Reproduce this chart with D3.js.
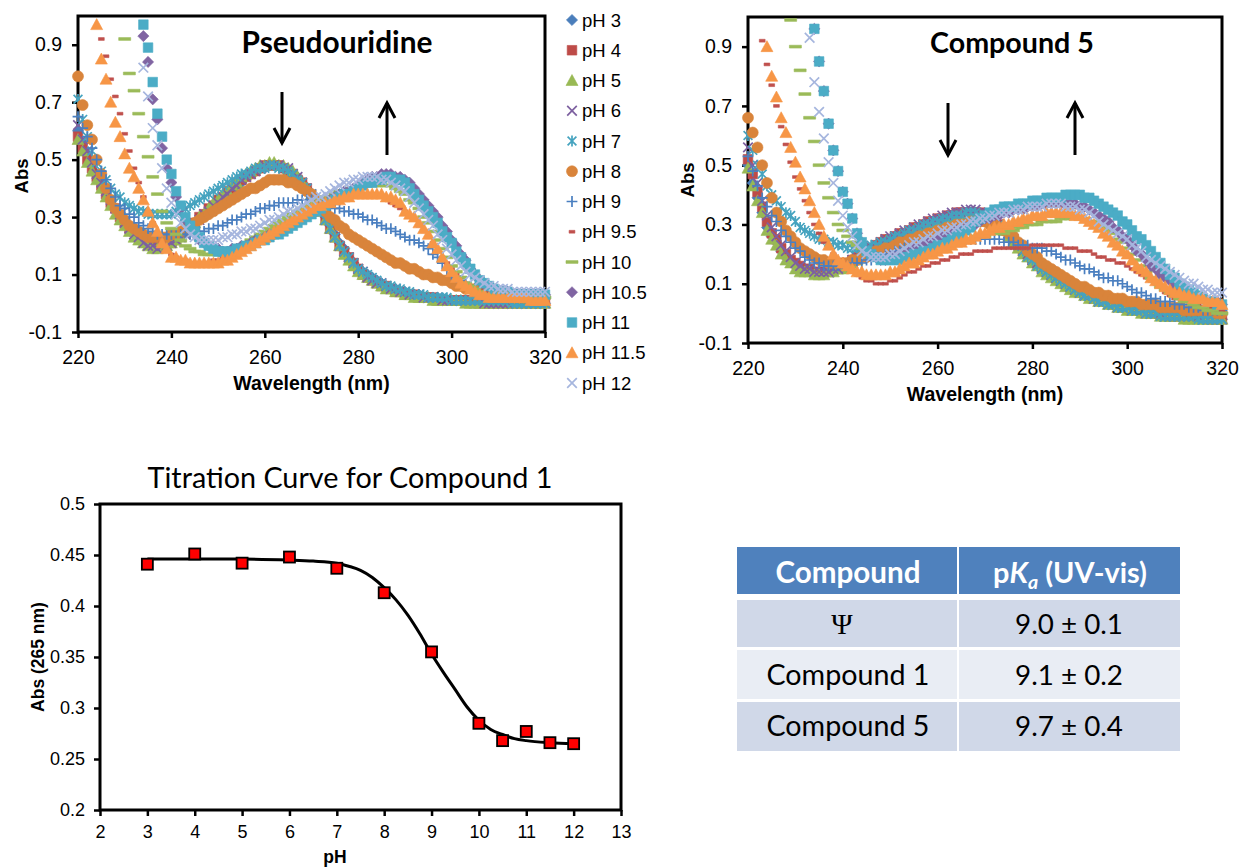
<!DOCTYPE html>
<html><head><meta charset="utf-8">
<script src="https://cdn.jsdelivr.net/npm/d3@7"></script>
<style>body{margin:0;background:#fff}svg{display:block}</style>
</head><body>
<svg id="c" width="1243" height="867"></svg>
<script>
// ---------------- DATA ----------------
const wavelengths = d3.range(220, 321, 1); // scan grid, nm
const wlTicks = [220, 240, 260, 280, 300, 320];
const absTicks = [-0.1, 0.1, 0.3, 0.5, 0.7, 0.9];
const phLabels = ["pH 3","pH 4","pH 5","pH 6","pH 7","pH 8","pH 9","pH 9.5","pH 10","pH 10.5","pH 11","pH 11.5","pH 12"];

// Pseudouridine spectra (Abs, 220..320 nm, 1 nm steps)
const psi_pH3 = [.60,.56,.52,.48,.45,.42,.39,.36,.33,.31,
 .29,.27,.25,.24,.22,.21,.21,.20,.20,.21,
 .21,.22,.23,.25,.26,.28,.29,.31,.32,.34,
 .35,.37,.38,.40,.41,.42,.44,.45,.46,.47,
 .47,.48,.48,.48,.47,.46,.45,.44,.42,.40,
 .38,.36,.33,.30,.27,.24,.21,.19,.16,.14,
 .12,.11,.10,.09,.08,.07,.06,.05,.05,.04,
 .04,.03,.03,.03,.02,.02,.02,.02,.01,.01,
 .01,.01,.01,.01,.01,.01,.01,.01,.01,.00,
 .00,.00,.00,.00,.00,.00,.00,.00,.00,.00,.00];
const psi_pH4 = [.58,.54,.50,.47,.44,.41,.38,.35,.33,.30,
 .28,.26,.25,.23,.22,.21,.20,.20,.20,.21,
 .21,.22,.24,.25,.27,.28,.30,.31,.33,.34,
 .36,.37,.39,.40,.42,.43,.44,.45,.46,.47,
 .48,.48,.48,.48,.47,.46,.45,.43,.42,.40,
 .37,.35,.32,.29,.26,.23,.20,.18,.16,.14,
 .12,.10,.09,.08,.07,.06,.06,.05,.04,.04,
 .03,.03,.03,.02,.02,.02,.02,.01,.01,.01,
 .01,.01,.01,.01,.01,.01,.00,.00,.00,.00,
 .00,.00,.00,.00,.00,.00,.00,.00,.00,.00,.00];
const psi_pH5 = [.57,.53,.49,.46,.43,.40,.37,.34,.31,.29,
 .27,.25,.23,.22,.21,.20,.19,.19,.20,.20,
 .21,.22,.23,.25,.26,.28,.30,.31,.33,.35,
 .36,.38,.39,.41,.42,.44,.45,.46,.47,.48,
 .48,.49,.49,.48,.48,.47,.46,.44,.42,.40,
 .38,.35,.32,.29,.26,.23,.20,.17,.15,.13,
 .11,.10,.09,.08,.07,.06,.05,.05,.04,.04,
 .03,.03,.02,.02,.02,.02,.01,.01,.01,.01,
 .01,.01,.01,.00,.00,.00,.00,.00,.00,.00,
 .00,.00,.00,.00,.00,.00,.00,.00,.00,.00,.00];
const psi_pH6 = [.62,.57,.53,.49,.45,.42,.39,.36,.33,.31,
 .28,.26,.24,.23,.21,.20,.20,.19,.20,.20,
 .21,.22,.23,.24,.26,.27,.29,.31,.32,.34,
 .35,.37,.38,.40,.41,.43,.44,.45,.46,.47,
 .48,.48,.48,.48,.47,.47,.45,.44,.42,.40,
 .38,.35,.32,.29,.26,.23,.20,.18,.16,.14,
 .12,.11,.09,.08,.07,.07,.06,.05,.05,.04,
 .04,.03,.03,.03,.02,.02,.02,.02,.01,.01,
 .01,.01,.01,.01,.01,.01,.01,.00,.00,.00,
 .00,.00,.00,.00,.00,.00,.00,.00,.00,.00,.00];
const psi_pH7 = [.71,.64,.58,.53,.49,.46,.43,.40,.38,.37,
 .35,.34,.33,.32,.32,.31,.31,.31,.31,.31,
 .31,.32,.32,.33,.34,.35,.36,.37,.38,.39,
 .40,.41,.42,.43,.44,.45,.45,.46,.47,.47,
 .47,.48,.48,.47,.47,.46,.45,.43,.42,.40,
 .38,.35,.32,.29,.26,.23,.20,.18,.16,.14,
 .12,.11,.10,.09,.08,.07,.06,.06,.05,.05,
 .04,.04,.03,.03,.03,.02,.02,.02,.02,.02,
 .01,.01,.01,.01,.01,.01,.01,.01,.01,.01,
 .01,.01,.01,.00,.00,.00,.00,.00,.00,.00,.00];
const psi_pH8 = [.79,.69,.62,.57,.50,.45,.40,.36,.33,.31,
 .29,.27,.26,.25,.24,.23,.23,.23,.23,.23,
 .24,.24,.25,.26,.27,.28,.29,.30,.31,.32,
 .33,.34,.35,.36,.37,.38,.39,.40,.40,.41,
 .42,.43,.43,.43,.43,.42,.42,.41,.40,.39,
 .38,.36,.34,.32,.30,.29,.27,.26,.24,.23,
 .22,.21,.20,.19,.18,.17,.16,.15,.14,.14,
 .13,.12,.12,.11,.10,.10,.09,.09,.08,.08,
 .07,.06,.06,.05,.05,.05,.04,.04,.04,.03,
 .03,.03,.03,.03,.03,.02,.02,.02,.02,.02,.02];
const psi_pH9 = [.65,.61,.58,.54,.50,.46,.43,.40,.37,.34,
 .33,.31,.30,.28,.27,.26,.25,.24,.24,.24,
 .24,.24,.24,.24,.24,.25,.25,.25,.26,.26,
 .27,.27,.28,.29,.29,.30,.31,.31,.32,.33,
 .33,.34,.34,.35,.35,.35,.35,.36,.36,.36,
 .36,.35,.35,.34,.34,.33,.33,.32,.32,.31,
 .31,.30,.29,.29,.28,.27,.26,.26,.25,.24,
 .23,.22,.22,.21,.20,.19,.17,.16,.14,.12,
 .10,.09,.08,.07,.06,.05,.05,.04,.04,.04,
 .03,.03,.03,.03,.03,.02,.02,.02,.02,.02,.02];
const psi_pH95 = [1.4,1.3,1.2,1.1,1.05,.92,.86,.78,.72,.66,
 .59,.53,.47,.42,.37,.32,.28,.24,.21,.19,
 .17,.16,.15,.15,.14,.14,.14,.14,.14,.15,
 .15,.16,.17,.17,.18,.19,.20,.21,.22,.23,
 .24,.25,.26,.27,.28,.29,.30,.31,.32,.33,
 .33,.34,.35,.35,.36,.36,.37,.37,.37,.38,
 .38,.38,.38,.38,.37,.37,.36,.35,.34,.33,
 .32,.30,.29,.27,.25,.23,.21,.18,.16,.14,
 .12,.10,.09,.07,.06,.05,.05,.04,.04,.03,
 .03,.03,.03,.03,.02,.02,.02,.02,.02,.02,.02];
const psi_pH10 = [1.8,1.7,1.6,1.5,1.4,1.3,1.2,1.1,1.05,1.04,
 .92,.80,.74,.66,.58,.51,.44,.38,.32,.28,
 .26,.24,.22,.20,.19,.18,.18,.17,.17,.17,
 .17,.17,.18,.18,.19,.20,.21,.22,.23,.24,
 .25,.26,.27,.28,.29,.30,.31,.32,.33,.34,
 .35,.35,.36,.37,.37,.38,.39,.39,.40,.40,
 .40,.41,.41,.41,.41,.41,.41,.41,.40,.39,
 .38,.36,.35,.33,.30,.28,.25,.22,.19,.16,
 .13,.11,.09,.07,.06,.05,.04,.03,.03,.02,
 .02,.02,.02,.02,.02,.02,.02,.02,.02,.02,.02];
const psi_pH105 = [2.0,1.9,1.8,1.7,1.6,1.5,1.4,1.3,1.2,1.15,
 1.1,1.08,1.06,1.04,.93,.84,.71,.64,.54,.47,
 .42,.37,.33,.29,.26,.24,.22,.21,.20,.19,
 .19,.18,.18,.19,.19,.20,.20,.21,.22,.22,
 .23,.24,.24,.25,.26,.27,.28,.29,.30,.31,
 .32,.33,.34,.35,.36,.37,.38,.39,.39,.40,
 .41,.42,.43,.44,.44,.45,.45,.45,.44,.44,
 .43,.42,.40,.38,.36,.34,.32,.30,.27,.25,
 .22,.20,.17,.15,.12,.10,.08,.07,.06,.05,
 .04,.04,.04,.03,.03,.03,.03,.03,.03,.03,.03];
const psi_pH11 = [2.0,1.9,1.8,1.7,1.6,1.5,1.4,1.3,1.2,1.15,
 1.1,1.08,1.06,1.06,.97,.89,.77,.66,.58,.50,
 .45,.39,.34,.30,.27,.25,.23,.21,.20,.19,
 .18,.18,.18,.18,.19,.19,.20,.20,.21,.22,
 .22,.23,.24,.24,.25,.26,.27,.28,.29,.30,
 .31,.32,.33,.34,.35,.36,.37,.38,.38,.39,
 .40,.41,.42,.42,.43,.43,.44,.44,.43,.43,
 .42,.40,.38,.36,.34,.32,.30,.28,.25,.23,
 .21,.18,.16,.14,.12,.10,.08,.07,.06,.05,
 .04,.04,.04,.03,.03,.03,.03,.03,.03,.03,.03];
const psi_pH115 = [1.6,1.4,1.25,1.1,.97,.85,.78,.70,.63,.58,
 .52,.47,.44,.40,.36,.32,.28,.25,.21,.19,
 .16,.16,.15,.15,.14,.14,.14,.14,.14,.14,
 .14,.15,.15,.16,.17,.18,.19,.20,.21,.22,
 .23,.24,.25,.26,.27,.28,.29,.30,.31,.32,
 .33,.34,.34,.35,.35,.36,.36,.37,.37,.38,
 .38,.38,.38,.38,.38,.38,.37,.37,.36,.35,
 .32,.31,.30,.28,.26,.24,.21,.19,.16,.13,
 .11,.09,.07,.06,.05,.04,.03,.03,.02,.02,
 .02,.02,.02,.02,.02,.02,.02,.01,.01,.01,.01];
const psi_pH12 = [2.0,1.9,1.8,1.7,1.6,1.5,1.4,1.3,1.2,1.15,
 1.1,1.08,1.06,1.05,.82,.72,.61,.55,.47,.40,
 .35,.31,.28,.26,.24,.23,.22,.22,.22,.22,
 .22,.23,.23,.24,.24,.25,.25,.26,.26,.27,
 .28,.29,.29,.30,.31,.32,.32,.33,.34,.35,
 .36,.37,.37,.38,.39,.40,.41,.42,.42,.43,
 .43,.44,.44,.44,.44,.43,.43,.42,.41,.40,
 .39,.37,.35,.33,.31,.29,.27,.24,.22,.19,
 .17,.15,.13,.11,.10,.09,.08,.07,.06,.06,
 .05,.05,.05,.04,.04,.04,.04,.04,.04,.04,.04];

// Compound 5 spectra (Abs, 220..320 nm, 1 nm steps)
const c5_pH3 = [.50,.44,.39,.34,.29,.26,.24,.21,.19,.18,
 .16,.15,.15,.14,.14,.14,.14,.14,.14,.15,
 .16,.17,.18,.19,.20,.21,.22,.23,.24,.24,
 .25,.26,.26,.27,.28,.28,.29,.30,.30,.31,
 .31,.32,.32,.33,.33,.33,.34,.34,.34,.33,
 .33,.32,.31,.30,.28,.27,.25,.23,.21,.19,
 .18,.16,.15,.14,.13,.12,.11,.10,.09,.08,
 .07,.06,.06,.05,.04,.04,.03,.03,.02,.02,
 .02,.01,.01,.01,.00,.00,.00,-.01,-.01,-.01,
 -.01,-.01,-.01,-.01,-.01,-.02,-.02,-.02,-.02,-.02,-.02];
const c5_pH4 = [.52,.47,.41,.36,.31,.27,.25,.22,.20,.18,
 .17,.16,.15,.15,.14,.14,.14,.14,.15,.15,
 .16,.17,.18,.19,.20,.21,.22,.23,.24,.25,
 .25,.26,.27,.27,.28,.29,.29,.30,.31,.31,
 .32,.32,.33,.33,.34,.34,.34,.34,.34,.34,
 .33,.32,.31,.30,.29,.27,.25,.23,.21,.20,
 .18,.17,.15,.14,.13,.12,.11,.10,.09,.08,
 .07,.07,.06,.05,.05,.04,.04,.03,.03,.02,
 .02,.02,.01,.01,.01,.00,.00,.00,.00,-.01,
 -.01,-.01,-.01,-.01,-.01,-.01,-.01,-.02,-.02,-.02,-.02];
const c5_pH5 = [.49,.43,.38,.34,.28,.25,.23,.20,.18,.17,
 .15,.14,.14,.14,.13,.13,.13,.14,.14,.15,
 .15,.16,.17,.18,.19,.20,.21,.22,.23,.24,
 .24,.25,.26,.26,.27,.28,.28,.29,.29,.30,
 .30,.31,.31,.32,.32,.33,.33,.33,.33,.33,
 .32,.31,.30,.29,.28,.26,.24,.22,.20,.19,
 .17,.16,.14,.13,.12,.11,.10,.09,.08,.07,
 .07,.06,.05,.05,.04,.04,.03,.03,.02,.02,
 .01,.01,.01,.00,.00,.00,.00,-.01,-.01,-.01,
 -.01,-.01,-.02,-.02,-.02,-.02,-.02,-.02,-.02,-.02,-.02];
const c5_pH6 = [.56,.50,.44,.38,.33,.29,.26,.23,.21,.19,
 .17,.16,.15,.15,.14,.14,.14,.14,.15,.15,
 .16,.17,.18,.19,.20,.21,.22,.23,.24,.25,
 .26,.26,.27,.28,.28,.29,.30,.30,.31,.32,
 .32,.33,.33,.34,.34,.34,.35,.35,.35,.34,
 .34,.33,.32,.30,.29,.27,.25,.23,.21,.20,
 .18,.17,.15,.14,.13,.12,.11,.10,.09,.08,
 .07,.06,.06,.05,.04,.04,.03,.03,.02,.02,
 .02,.01,.01,.01,.00,.00,.00,.00,-.01,-.01,
 -.01,-.01,-.01,-.01,-.01,-.01,-.02,-.02,-.02,-.02,-.02];
const c5_pH7 = [.60,.55,.50,.47,.43,.40,.38,.36,.34,.33,
 .31,.29,.28,.27,.26,.25,.25,.24,.24,.23,
 .23,.22,.22,.22,.22,.22,.23,.23,.24,.24,
 .25,.26,.26,.27,.28,.28,.29,.30,.30,.31,
 .31,.32,.32,.33,.33,.33,.34,.34,.34,.33,
 .33,.32,.31,.30,.28,.27,.25,.23,.21,.19,
 .18,.16,.15,.14,.13,.12,.11,.10,.09,.08,
 .07,.06,.06,.05,.04,.04,.03,.03,.02,.02,
 .02,.01,.01,.01,.00,.00,.00,-.01,-.01,-.01,
 -.01,-.01,-.01,-.01,-.01,-.02,-.02,-.02,-.02,-.02,-.02];
const c5_pH8 = [.66,.61,.56,.50,.44,.39,.34,.31,.28,.26,
 .24,.22,.21,.20,.19,.18,.18,.17,.17,.17,
 .17,.17,.18,.18,.19,.19,.20,.21,.21,.22,
 .22,.23,.24,.24,.25,.25,.26,.26,.27,.27,
 .28,.28,.29,.29,.30,.30,.30,.31,.31,.31,
 .31,.30,.30,.29,.28,.27,.26,.24,.23,.21,
 .20,.19,.17,.16,.15,.14,.13,.12,.11,.10,
 .09,.09,.08,.07,.07,.06,.06,.05,.05,.05,
 .04,.04,.04,.03,.03,.03,.03,.02,.02,.02,
 .02,.02,.01,.01,.01,.01,.01,.01,.01,.00,.00];
const c5_pH9 = [.53,.48,.43,.39,.36,.33,.31,.28,.26,.24,
 .22,.21,.19,.18,.17,.17,.16,.16,.16,.16,
 .16,.16,.17,.17,.17,.18,.18,.19,.19,.20,
 .20,.21,.21,.22,.22,.23,.23,.24,.24,.24,
 .25,.25,.25,.25,.25,.25,.25,.25,.25,.25,
 .25,.25,.25,.25,.24,.24,.24,.23,.23,.23,
 .22,.22,.22,.21,.21,.20,.19,.18,.18,.17,
 .16,.15,.15,.14,.13,.12,.12,.11,.11,.10,
 .09,.08,.07,.07,.06,.05,.05,.04,.04,.04,
 .03,.03,.03,.02,.02,.02,.01,.01,.01,.01,.01];
const c5_pH95 = [1.4,1.2,1.1,.92,.84,.77,.70,.63,.57,.51,
 .46,.42,.38,.34,.30,.27,.24,.22,.20,.18,
 .17,.15,.14,.13,.12,.11,.11,.10,.10,.10,
 .11,.11,.12,.13,.14,.14,.15,.16,.16,.17,
 .17,.18,.18,.19,.19,.20,.20,.20,.21,.21,
 .21,.21,.22,.22,.22,.22,.22,.22,.22,.22,
 .23,.23,.23,.23,.23,.23,.23,.22,.22,.22,
 .21,.21,.21,.20,.19,.19,.18,.18,.17,.17,
 .16,.15,.14,.13,.12,.11,.10,.09,.07,.06,
 .05,.05,.04,.04,.03,.03,.02,.02,.02,.01,.01];
const c5_pH10 = [2.0,1.8,1.6,1.45,1.3,1.2,1.12,1.08,1.05,.99,
 .90,.82,.74,.66,.58,.50,.44,.39,.34,.30,
 .28,.26,.24,.23,.22,.21,.20,.19,.18,.18,
 .18,.18,.18,.19,.19,.20,.20,.21,.21,.22,
 .22,.23,.23,.24,.24,.25,.25,.25,.26,.26,
 .26,.27,.27,.27,.27,.28,.28,.29,.29,.30,
 .30,.30,.31,.31,.31,.31,.32,.32,.32,.32,
 .32,.32,.31,.31,.30,.29,.28,.27,.25,.24,
 .22,.20,.18,.16,.14,.12,.11,.09,.08,.07,
 .06,.05,.04,.04,.03,.02,.02,.01,.01,.00,.00];
const c5_pH105 = [2.0,1.9,1.8,1.7,1.6,1.5,1.4,1.3,1.2,1.15,
 1.1,1.08,1.06,1.05,.96,.85,.75,.64,.55,.48,
 .41,.37,.32,.27,.24,.21,.20,.19,.18,.18,
 .19,.19,.20,.20,.21,.22,.22,.23,.24,.24,
 .25,.26,.26,.27,.28,.28,.29,.30,.30,.31,
 .32,.32,.33,.33,.34,.34,.35,.35,.35,.36,
 .36,.36,.37,.37,.37,.37,.37,.37,.37,.37,
 .36,.36,.35,.34,.33,.32,.31,.29,.28,.26,
 .25,.23,.21,.20,.18,.16,.15,.13,.12,.11,
 .09,.08,.07,.06,.06,.05,.05,.04,.04,.04,.03];
const c5_pH11 = [2.0,1.9,1.8,1.7,1.6,1.5,1.4,1.3,1.2,1.15,
 1.1,1.08,1.06,1.05,.96,.85,.75,.64,.55,.48,
 .41,.37,.32,.27,.24,.21,.20,.19,.18,.18,
 .18,.18,.18,.19,.19,.20,.20,.21,.21,.22,
 .23,.23,.24,.25,.26,.27,.28,.29,.31,.32,
 .33,.34,.35,.35,.36,.36,.36,.37,.37,.37,
 .38,.38,.38,.39,.39,.39,.39,.40,.40,.40,
 .40,.39,.39,.38,.37,.36,.35,.34,.33,.31,
 .30,.28,.26,.25,.23,.21,.19,.17,.15,.13,
 .12,.10,.09,.08,.07,.06,.05,.04,.04,.03,.03];
const c5_pH115 = [1.6,1.4,1.25,1.1,.90,.80,.73,.66,.61,.56,
 .51,.46,.42,.38,.34,.30,.26,.23,.20,.18,
 .17,.16,.15,.14,.14,.13,.13,.13,.13,.13,
 .14,.14,.15,.16,.17,.17,.18,.19,.20,.20,
 .21,.22,.22,.23,.24,.24,.25,.25,.26,.27,
 .27,.28,.29,.29,.30,.30,.31,.31,.32,.32,
 .33,.33,.33,.34,.34,.34,.34,.34,.34,.33,
 .33,.32,.31,.30,.29,.27,.26,.24,.23,.21,
 .20,.18,.16,.15,.14,.12,.11,.10,.09,.08,
 .07,.07,.06,.06,.05,.05,.05,.04,.04,.04,.03];
const c5_pH12 = [2.0,1.9,1.8,1.7,1.6,1.5,1.4,1.3,1.2,1.15,
 1.1,1.08,1.05,.93,.78,.68,.59,.51,.44,.38,
 .33,.29,.26,.23,.21,.20,.19,.19,.19,.19,
 .20,.20,.21,.22,.23,.24,.24,.25,.26,.26,
 .27,.28,.28,.29,.29,.30,.30,.31,.31,.32,
 .32,.33,.33,.34,.34,.34,.35,.35,.35,.36,
 .36,.36,.36,.37,.37,.37,.37,.36,.36,.36,
 .35,.35,.34,.33,.31,.30,.29,.28,.27,.26,
 .25,.23,.22,.21,.19,.18,.17,.16,.15,.14,
 .13,.12,.11,.10,.10,.09,.08,.08,.07,.07,.07];

// Titration of compound 1 at 265 nm
const titrationPH  = [3, 4, 5, 6, 7, 8, 9, 10, 10.5, 11, 11.5, 12];
const titrationAbs = [0.441, 0.451, 0.442, 0.448, 0.437, 0.413, 0.355, 0.285, 0.268, 0.277, 0.266, 0.265];
const fitPH  = [3, 4, 5, 6, 6.5, 7, 7.25, 7.5, 7.75, 8, 8.25, 8.5, 8.75, 9, 9.25, 9.5, 9.75, 10, 10.25, 10.5, 10.75, 11, 11.5, 12];
const fitAbs = [0.446, 0.446, 0.446, 0.445, 0.444, 0.442, 0.439, 0.435, 0.428, 0.418, 0.406, 0.391, 0.373, 0.353, 0.335, 0.318, 0.301, 0.288, 0.279, 0.274, 0.270, 0.268, 0.266, 0.265];
const titrXTicks = [2,3,4,5,6,7,8,9,10,11,12,13];
const titrYTicks = [0.2,0.25,0.3,0.35,0.4,0.45,0.5];

// Table
const tableHeader = ["Compound", "pKa (UV-vis)"];
const tableCompounds = ["\u03A8", "Compound 1", "Compound 5"];
const tablePKa = ["9.0 \u00B1 0.1", "9.1 \u00B1 0.2", "9.7 \u00B1 0.4"];

// ---------------- STYLE ----------------
const markerTypes = ["diamond","square","triangle","x","star","circle","plus","shortbar","longbar","diamond","square","triangle","x"];
const colors = ["#4A7EBB","#BE4B48","#98B954","#7D60A0","#45A3BF","#D9843B","#4A7FC0","#C0504D","#9BBB59","#8064A2","#4BACC6","#F79646","#A6B6DE"];
const AX = '"Liberation Sans", Arial, sans-serif';
const CAL = 'Lato, "Open Sans", sans-serif';

const psiSeries = [psi_pH3,psi_pH4,psi_pH5,psi_pH6,psi_pH7,psi_pH8,psi_pH9,psi_pH95,psi_pH10,psi_pH105,psi_pH11,psi_pH115,psi_pH12];
const c5Series  = [c5_pH3,c5_pH4,c5_pH5,c5_pH6,c5_pH7,c5_pH8,c5_pH9,c5_pH95,c5_pH10,c5_pH105,c5_pH11,c5_pH115,c5_pH12];
[...psiSeries, ...c5Series].forEach((a,i)=>{ if(a.length!==wavelengths.length) console.error("bad length", i, a.length); });

const svg = d3.select('#c');

const SHAPES = {
  diamond:  {d:'M0,-5.6L5.6,0L0,5.6L-5.6,0Z', fill:true},
  square:   {d:'M-4.8,-4.8H4.8V4.8H-4.8Z', fill:true},
  triangle: {d:'M0,-6L6,5H-6Z', fill:true},
  circle:   {d:'M-5.5,0A5.5,5.5 0 1,0 5.5,0A5.5,5.5 0 1,0 -5.5,0Z', fill:true},
  x:        {d:'M-4.8,-4.8L4.8,4.8M-4.8,4.8L4.8,-4.8', fill:false},
  star:     {d:'M-4.4,-4.4L4.4,4.4M-4.4,4.4L4.4,-4.4M0,-5.4V5.4', fill:false},
  plus:     {d:'M-5.4,0H5.4M0,-5.4V5.4', fill:false},
  shortbar: {d:'M-2.9,-1.4H2.9V1.4H-2.9Z', fill:true},
  longbar:  {d:'M-6,-1.4H6V1.4H-6Z', fill:true}
};
function marker(g, type, color, cx, cy) {
  const s = SHAPES[type];
  g.append('path').attr('d', s.d).attr('transform', `translate(${cx},${cy})`)
    .attr('fill', s.fill ? color : 'none').attr('stroke', color)
    .attr('stroke-width', s.fill ? 0.6 : 1.7);
}
function fitText(sel, target) {
  const len = sel.node().getComputedTextLength();
  const k = target / len;
  sel.attr('font-size', parseFloat(sel.attr('font-size')) * k);
  sel.selectAll('tspan[font-size]').each(function(){
    const t = d3.select(this); t.attr('font-size', parseFloat(t.attr('font-size')) * k);
  });
  return parseFloat(sel.attr('font-size'));
}
function styleAxis(a, fs) {
  a.select('.domain').remove();
  a.selectAll('.tick line').attr('stroke','#000').attr('stroke-width',2.5);
  a.selectAll('.tick text').attr('font-family', AX).attr('font-size', fs).attr('fill','#000');
}
function arrow(g, x, y1, y2, dir) {
  g.append('line').attr('x1',x).attr('x2',x).attr('y1',y1).attr('y2',y2).attr('stroke','#000').attr('stroke-width',3);
  const hy = dir==='down' ? y2 : y1, s = dir==='down' ? -1 : 1;
  g.append('path').attr('d',`M${x-8},${hy+s*15}L${x},${hy}L${x+8},${hy+s*15}`)
    .attr('fill','none').attr('stroke','#000').attr('stroke-width',3).attr('stroke-linejoin','miter');
}

function spectrum(box, seriesVals, opt) {
  const g = svg.append('g');
  const x = d3.scaleLinear().domain([220, 320]).range([box.l, box.r]);
  const y = d3.scaleLinear().domain([-0.1, 1.0]).range([box.b, box.t]);
  g.append('rect').attr('x',box.l).attr('y',box.t).attr('width',box.r-box.l).attr('height',box.b-box.t)
    .attr('fill','none').attr('stroke','#000').attr('stroke-width',3);
  const ya = g.append('g').attr('transform',`translate(${box.l},0)`)
    .call(d3.axisLeft(y).tickValues(absTicks).tickSize(6).tickSizeOuter(0).tickPadding(10).tickFormat(d=>String(d)));
  styleAxis(ya, 19.5);
  const xa = g.append('g').attr('transform',`translate(0,${box.b})`)
    .call(d3.axisBottom(x).tickValues(wlTicks).tickSize(6).tickSizeOuter(0).tickPadding(12).tickFormat(d=>String(d)));
  styleAxis(xa, 19.5);
  seriesVals.forEach((vals, si) => {
    const sg = g.append('g');
    wavelengths.forEach((w, i) => {
      const v = vals[i];
      if (v == null || v > 1.0 || v < -0.1) return;
      marker(sg, markerTypes[si], colors[si], x(w), y(v));
    });
  });
  g.append('text').attr('x', (box.l+box.r)/2).attr('y', opt.xtY).attr('text-anchor','middle')
    .attr('font-family',AX).attr('font-weight','bold').attr('font-size',19.5).text('Wavelength (nm)');
  g.append('text').attr('transform',`translate(${opt.ytX},${opt.ytY}) rotate(-90)`).attr('text-anchor','middle')
    .attr('font-family',AX).attr('font-weight','bold').attr('font-size',18.5).text('Abs');
  const t = g.append('text').attr('x', opt.titleX).attr('y', 53).attr('text-anchor','middle')
    .attr('font-family',CAL).attr('font-weight','bold').attr('font-size', 28).text(opt.title);
  fitText(t, opt.titleW);
  opt.arrows.forEach(a => arrow(g, a[0], a[1], a[2], a[3]));
  return g;
}

// Pseudouridine
spectrum({l:78, r:545, t:16, b:332}, psiSeries,
  {title:'Pseudouridine', titleX:337, titleW:191, xtY:390, ytX:28, ytY:176,
   arrows:[[282, 92, 143, 'down'], [387, 103, 155, 'up']]});
// Legend
const lg = svg.append('g');
phLabels.forEach((lab, i) => {
  const yy = 20 + i * 30.25;
  marker(lg, markerTypes[i], colors[i], 572, yy);
  lg.append('text').attr('x', 582).attr('y', yy).attr('dy','0.36em')
    .attr('font-family',AX).attr('font-size',18.5).attr('fill','#000').text(lab);
});

// Compound 5
spectrum({l:748, r:1222, t:17, b:343}, c5Series,
  {title:'Compound 5', titleX:1012, titleW:164, xtY:401, ytX:694, ytY:180,
   arrows:[[948, 103, 155, 'down'], [1075, 103, 155, 'up']]});

// Titration curve
(function(){
  const box = {l:100, r:621, t:504, b:810};
  const g = svg.append('g');
  const x = d3.scaleLinear().domain([2, 13]).range([box.l, box.r]);
  const y = d3.scaleLinear().domain([0.2, 0.5]).range([box.b, box.t]);
  g.append('rect').attr('x',box.l).attr('y',box.t).attr('width',box.r-box.l).attr('height',box.b-box.t)
    .attr('fill','none').attr('stroke','#000').attr('stroke-width',3);
  const ya = g.append('g').attr('transform',`translate(${box.l},0)`)
    .call(d3.axisLeft(y).tickValues(titrYTicks).tickSize(6).tickSizeOuter(0).tickPadding(9).tickFormat(d=>String(d)));
  styleAxis(ya, 18);
  const xa = g.append('g').attr('transform',`translate(0,${box.b})`)
    .call(d3.axisBottom(x).tickValues(titrXTicks).tickSize(6).tickSizeOuter(0).tickPadding(9).tickFormat(d=>String(d)));
  styleAxis(xa, 18);
  const line = d3.line().x((d,i)=>x(fitPH[i])).y((d,i)=>y(fitAbs[i])).curve(d3.curveMonotoneX);
  g.append('path').datum(fitPH).attr('d', line).attr('fill','none').attr('stroke','#000').attr('stroke-width',3);
  titrationPH.forEach((p,i)=>{
    g.append('rect').attr('x', x(p)-5.5).attr('y', y(titrationAbs[i])-5.5).attr('width',11).attr('height',11)
      .attr('fill','#FF0000').attr('stroke','#000').attr('stroke-width',1.8);
  });
  const t = g.append('text').attr('x',350).attr('y',488).attr('text-anchor','middle')
    .attr('font-family',CAL).attr('font-size',26).attr('fill','#000').text('Titration Curve for Compound 1');
  fitText(t, 405);
  g.append('text').attr('x',335).attr('y',863).attr('text-anchor','middle')
    .attr('font-family',AX).attr('font-weight','bold').attr('font-size',17.5).text('pH');
  g.append('text').attr('transform','translate(44,657) rotate(-90)').attr('text-anchor','middle')
    .attr('font-family',AX).attr('font-weight','bold').attr('font-size',17.5).text('Abs  (265 nm)');
})();

// Table
(function(){
  const g = svg.append('g');
  const cols = [[737, 957], [959, 1180]];
  const rows = [[547, 594, '#4F81BD'], [600, 647, '#D0D8E8'], [650, 699, '#E9EDF4'], [702, 751, '#D0D8E8']];
  rows.forEach(r => cols.forEach(c => {
    g.append('rect').attr('x',c[0]).attr('y',r[0]).attr('width',c[1]-c[0]).attr('height',r[1]-r[0]).attr('fill',r[2]);
  }));
  const h1 = g.append('text').attr('x',848).attr('y',583).attr('text-anchor','middle').attr('fill','#fff')
    .attr('font-family',CAL).attr('font-weight','bold').attr('font-size',28).text(tableHeader[0]);
  fitText(h1, 145);
  const h2 = g.append('text').attr('x',1070).attr('y',583).attr('text-anchor','middle').attr('fill','#fff')
    .attr('font-family',CAL).attr('font-weight','bold').attr('font-size',28);
  h2.append('tspan').text('p');
  h2.append('tspan').attr('font-style','italic').text('K');
  h2.append('tspan').attr('font-style','italic').attr('font-size',19).attr('dy',6).text('a');
  h2.append('tspan').attr('dy',-6).text(' (UV-vis)');
  fitText(h2, 154);
  const baseY = [634, 685, 736];
  tableCompounds.forEach((c,i)=>{
    if (i===0) {
      g.append('text').attr('x',842).attr('y',baseY[i]).attr('text-anchor','middle').attr('fill','#000')
        .attr('font-family','"Liberation Serif", "DejaVu Serif", serif').attr('font-size',29).text(c);
    } else {
      const t = g.append('text').attr('x',848).attr('y',baseY[i]).attr('text-anchor','middle').attr('fill','#000')
        .attr('font-family',CAL).attr('font-size',28).text(c);
      fitText(t, 163);
    }
    const v = g.append('text').attr('x',1069).attr('y',baseY[i]).attr('text-anchor','middle').attr('fill','#000')
      .attr('font-family',CAL).attr('font-size',28).text(tablePKa[i]);
    fitText(v, 108);
  });
})();
</script>
</body></html>
